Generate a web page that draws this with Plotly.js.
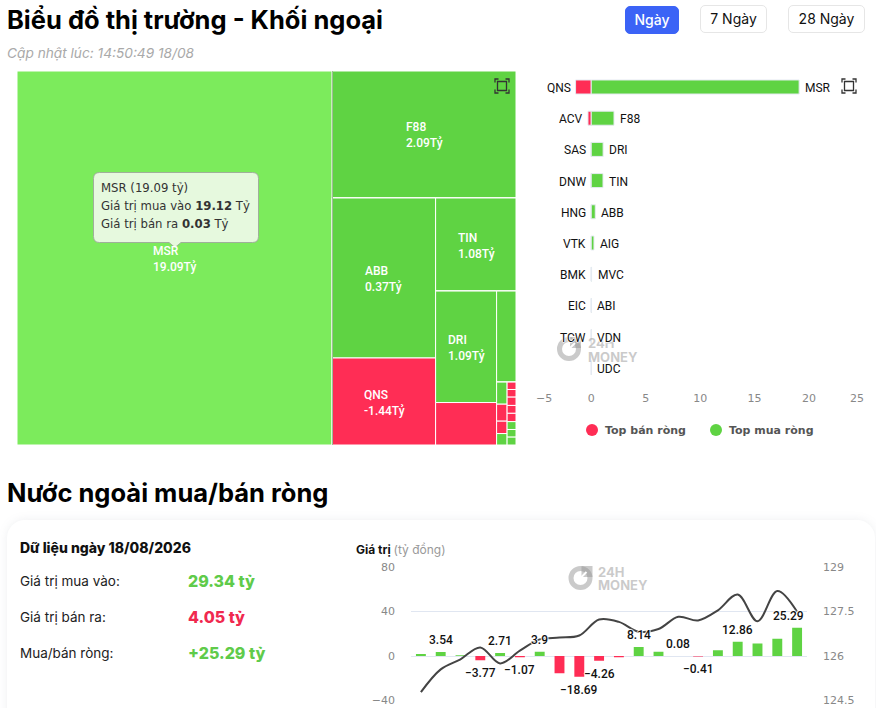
<!DOCTYPE html>
<html lang="vi">
<head>
<meta charset="utf-8">
<script src="https://cdn.plot.ly/plotly-3.0.1.min.js"></script>
<style>
html,body{margin:0;padding:0;width:876px;height:708px;overflow:hidden;background:#fff;font-family:Inter,sans-serif;}
.abs{position:absolute;white-space:nowrap;}
h1,h2{margin:0;font-size:25.5px;font-weight:700;color:#000;line-height:32px;}
.btn{box-sizing:border-box;height:28px;line-height:26px;text-align:center;font-size:14px;border:1px solid #e6e6e6;border-radius:5px;color:#111;background:#fff;}
.btn.on{background:#3b63f6;border-color:#3b63f6;color:#fff;font-weight:500;}
#card{left:7px;top:520px;width:868px;height:260px;border-radius:18px;background:#fff;box-shadow:0 0 10px rgba(120,130,150,.13);}
.lbl{font-size:13.5px;color:#222;line-height:18px;}
.val{font-size:16px;font-weight:800;line-height:20px;}
#plot{position:absolute;left:0;top:0;width:876px;height:708px;}
</style>
</head>
<body>
<h1 class="abs" style="left:7px;top:4px;">Biểu đồ thị trường - Khối ngoại</h1>
<div class="abs" style="left:7px;top:44px;font-size:13.7px;font-style:italic;color:#a9a9a9;line-height:18px;">Cập nhật lúc: 14:50:49 18/08</div>
<div class="abs btn on" style="left:625px;top:6px;width:54px;">Ngày</div>
<div class="abs btn" style="left:700px;top:5px;width:67px;">7 Ngày</div>
<div class="abs btn" style="left:788px;top:5px;width:77px;">28 Ngày</div>
<h2 class="abs" style="left:7px;top:477px;">Nước ngoài mua/bán ròng</h2>
<div class="abs" id="card"></div>
<div class="abs" style="left:20px;top:539px;font-size:14px;font-weight:800;color:#111;line-height:18px;">Dữ liệu ngày 18/08/2026</div>
<div class="abs lbl" style="left:20px;top:572px;">Giá trị mua vào:</div>
<div class="abs val" style="left:188px;top:571px;color:#5fcb4a;">29.34 tỷ</div>
<div class="abs lbl" style="left:20px;top:608px;">Giá trị bán ra:</div>
<div class="abs val" style="left:188px;top:607px;color:#f0294f;">4.05 tỷ</div>
<div class="abs lbl" style="left:20px;top:644px;">Mua/bán ròng:</div>
<div class="abs val" style="left:188px;top:643px;color:#5fcb4a;">+25.29 tỷ</div>
<div class="abs" style="left:356px;top:542px;font-size:12px;line-height:16px;color:#111;font-weight:700;">Giá trị <span style="font-weight:400;color:#999;">(tỷ đồng)</span></div>
<div id="plot"></div>
<script>
// ---- treemap data (tile weight read from the area of each tile) ----
var tileIds = ['root','MSR','A','F88','B','C','ABB','QNS','D','TIN','E','G','DRI','ACV','H','AIG','I','J','MVC','SAS','DNW','ABI','K','HNG','VTK','BMK','EIC','TCW','VDN','UDC','OTHER'];
var tileParents = ['','root','root','A','A','B','C','C','B','D','D','E','G','G','E','H','H','I','J','J','J','J','I','K','K','K','K','K','K','K','K'];
var tileWeights = [0,117.9,0,23.33,0,0,16.53,8.99,0,7.48,0,0,6.80,2.59,0,1.765,0,0,.232,.178,.13,.12,0,.066,.068,.074,.07,.074,.07,.068,.07];
var redTiles = ['QNS','ACV','SAS','DNW','HNG','VTK','BMK','EIC','TCW'];
// ---- treemap labels ----
var tileLabels = ['MSR','F88','ABB','TIN','DRI','QNS'];
var tileNet = ['19.09Tỷ','2.09Tỷ','0.37Tỷ','1.08Tỷ','1.09Tỷ','-1.44Tỷ'];
// ---- top buy / sell bars ----
var sellNames = ['QNS','ACV','SAS','DNW','HNG','VTK','BMK','EIC','TCW',''];
var sellValues = [-1.44,-0.3,-0.02,-0.02,-0.01,-0.01,-0.01,-0.01,-0.01,0];
var buyNames = ['MSR','F88','DRI','TIN','ABB','AIG','MVC','ABI','VDN','UDC'];
var buyValues = [19.09,2.09,1.09,1.08,0.37,0.25,0.03,0.02,0.01,0.01];
var rows = [0,1,2,3,4,5,6,7,8,9];
// ---- foreign net flow and index ----
var sessions = [1,2,3,4,5,6,7,8,9,10,11,12,13,14,15,16,17,18,19,20];
var netFlow = [1.8,3.54,0.6,-3.77,2.71,-1.07,3.9,-15.6,-18.69,-4.26,-1.1,8.14,3.9,0.08,-0.41,5.1,12.86,11.2,15.4,25.29];
var labelled = [1,3,4,5,6,8,9,11,13,14,16,19];
var indexLine = [124.78,125.55,125.89,126.29,125.75,126.18,126.56,126.62,126.69,127.23,127.15,126.82,126.91,127.32,127.2,127.54,128.07,127.17,128.19,127.49];

var W=876,H=708;
var GREEN='#5fd343',LIGHT='#7ceb5c',RED='#ff2d55';
function px(x){return x/W;} function py(y){return 1-y/H;}
var tileColors = tileIds.map(function(id){return id==='MSR'?LIGHT:(redTiles.indexOf(id)>=0?RED:GREEN);});

var traces=[
 {type:'treemap',ids:tileIds,labels:tileIds,parents:tileParents,values:tileWeights,branchvalues:'remainder',sort:false,
  textinfo:'none',hoverinfo:'skip',domain:{x:[px(17),px(516)],y:[py(445),py(71)]},
  tiling:{packing:'slice-dice',pad:0},pathbar:{visible:false},
  marker:{colors:tileColors,pad:{t:0,l:0,r:0,b:0},line:{color:'#fff',width:1}},leaf:{opacity:1}},
 {type:'bar',orientation:'h',x:sellValues,y:rows,xaxis:'x',yaxis:'y',width:.45,hoverinfo:'skip',marker:{color:RED,line:{color:'#e6ebf2',width:1}}},
 {type:'bar',orientation:'h',x:buyValues,y:rows,xaxis:'x',yaxis:'y',width:.45,hoverinfo:'skip',marker:{color:GREEN,line:{color:'#e6ebf2',width:1}}},
 {type:'bar',x:sessions,y:netFlow,xaxis:'x2',yaxis:'y2',width:.5,hoverinfo:'skip',marker:{color:netFlow.map(function(v){return v<0?RED:GREEN;})}},
 {type:'scatter',mode:'lines',x:sessions,y:indexLine,xaxis:'x2',yaxis:'y3',hoverinfo:'skip',line:{color:'#444',width:2,shape:'spline',smoothing:1}}
];

var ann=[],shapes=[];
var halo='1px 0 1px #fff,-1px 0 1px #fff,0 1px 1px #fff,0 -1px 1px #fff';
function note(x,y,text,o){o=o||{};ann.push(Object.assign({xref:'paper',yref:'paper',x:px(x-2),y:py(y),text:text,showarrow:false,xanchor:'left',yanchor:'middle',align:'left'},o));}
var a=px,b=py;
function P(x,y){return a(x)+','+b(y);}

// divider beside the largest tile
shapes.push({type:'line',xref:'paper',yref:'paper',x0:a(332.5),x1:a(332.5),y0:b(71),y1:b(445),line:{color:'#9dbb95',width:1}});

// watermark
function mark(cx,cy,tx,ty1,ty2){
 var c='rgba(150,150,150,.5)';
 shapes.push({type:'circle',xref:'paper',yref:'paper',x0:a(cx-9.5),x1:a(cx+9.5),y0:b(cy+9.5),y1:b(cy-9.5),line:{color:c,width:5},fillcolor:'rgba(0,0,0,0)'});
 shapes.push({type:'rect',xref:'paper',yref:'paper',x0:a(cx+1),x1:a(cx+12),y0:b(cy-1),y1:b(cy-12),line:{width:0},fillcolor:c});
 shapes.push({type:'line',xref:'paper',yref:'paper',x0:a(cx-4),x1:a(cx+6),y0:b(cy+4),y1:b(cy-6),line:{color:'#fff',width:2}});
 note(tx,ty1,'<b>24H</b>',{font:{family:'Inter',size:13,color:c}});
 note(tx,ty2,'<b>MONEY</b>',{font:{family:'Inter',size:13,color:c}});
}
mark(569,349,588,343,357);
mark(580.5,578,598,572,585);

// treemap labels
var labelPos=[[153,252],[406,128],[365,272],[458,239],[448,341],[364,396]];
tileLabels.forEach(function(t,i){
 note(labelPos[i][0],labelPos[i][1]+7,t+'<br>'+tileNet[i],{font:{family:'Roboto',size:12,color:'#fff',weight:500}});
});

// tooltip
var L=93.5,R=258.5,T=172.5,B=242.5,r=6,mx=175;
shapes.push({type:'path',xref:'paper',yref:'paper',layer:'above',fillcolor:'#e6f9de',line:{color:'#9fb09a',width:1},
 path:'M'+P(L+r,T)+' L'+P(R-r,T)+' Q'+P(R,T)+' '+P(R,T+r)+' L'+P(R,B-r)+' Q'+P(R,B)+' '+P(R-r,B)+' L'+P(mx+6,B)+' L'+P(mx,B+5)+' L'+P(mx-6,B)+' L'+P(L+r,B)+' Q'+P(L,B)+' '+P(L,B-r)+' L'+P(L,T+r)+' Q'+P(L,T)+' '+P(L+r,T)+' Z'});
var tipFont={family:'DejaVu Sans',size:11.7,color:'#333'};
note(101,188,'MSR (19.09 tỷ)',{font:tipFont});
note(101,206,'Giá trị mua vào <b>19.12</b> Tỷ',{font:tipFont});
note(101,224,'Giá trị bán ra <b>0.03</b> Tỷ',{font:tipFont});

// fullscreen icons
function icon(cx,cy){
 var s=7,k=3.5,cc='#333';
 var d='M'+P(cx-s,cy-s+k)+' L'+P(cx-s,cy-s)+' L'+P(cx-s+k,cy-s)+' M'+P(cx+s-k,cy-s)+' L'+P(cx+s,cy-s)+' L'+P(cx+s,cy-s+k)+' M'+P(cx+s,cy+s-k)+' L'+P(cx+s,cy+s)+' L'+P(cx+s-k,cy+s)+' M'+P(cx-s+k,cy+s)+' L'+P(cx-s,cy+s)+' L'+P(cx-s,cy+s-k);
 shapes.push({type:'path',xref:'paper',yref:'paper',path:d,line:{color:cc,width:1.3}});
 shapes.push({type:'rect',xref:'paper',yref:'paper',x0:a(cx-4.5),x1:a(cx+4.5),y0:b(cy+4.5),y1:b(cy-4.5),line:{color:cc,width:1.3}});
}
icon(502,86);icon(849,86);

// bar name labels
var nameFont={family:'Roboto',size:12,color:'#111',shadow:halo};
rows.forEach(function(i){
 if(sellNames[i]) ann.push({xref:'x',yref:'y',x:sellValues[i],y:i,text:sellNames[i],showarrow:false,xanchor:'right',xshift:-3,yshift:-1,font:nameFont});
 ann.push({xref:'x',yref:'y',x:buyValues[i],y:i,text:buyNames[i],showarrow:false,xanchor:'left',xshift:4,yshift:-1,font:nameFont});
});
var axisFont={family:'DejaVu Sans',size:11,color:'#888'};
ann.push({xref:'x',yref:'paper',x:-5,y:py(398),text:'−5',showarrow:false,xshift:7,font:axisFont,yanchor:'middle'});
ann.push({xref:'x',yref:'paper',x:25,y:py(398),text:'25',showarrow:false,xshift:-7,font:axisFont,yanchor:'middle'});

// legend
[[592,RED,605,'Top bán ròng'],[716,GREEN,729,'Top mua ròng']].forEach(function(e){
 shapes.push({type:'circle',xref:'paper',yref:'paper',x0:a(e[0]-6),x1:a(e[0]+6),y0:b(436),y1:b(424),line:{width:0},fillcolor:e[1]});
 note(e[2],430.5,'<b>'+e[3]+'</b>',{font:{family:'DejaVu Sans',size:11,color:'#555'}});
});

// net flow value labels
var valFont={family:'Roboto',size:12,color:'#111',weight:500,shadow:halo};
labelled.forEach(function(i){
 var v=netFlow[i];
 ann.push({xref:'x2',yref:'y2',x:sessions[i],y:v,text:String(v).replace('-','−'),showarrow:false,yanchor:'middle',yshift:v<0?-13:12,xshift:i===19?-9:0,font:valFont});
});

var layout={width:W,height:H,margin:{l:0,r:0,t:0,b:0,pad:0},paper_bgcolor:'rgba(0,0,0,0)',plot_bgcolor:'rgba(0,0,0,0)',showlegend:false,barmode:'overlay',dragmode:false,hovermode:false,
 xaxis:{domain:[px(536.8),px(863.5)],range:[-5,25],tickvals:[0,5,10,15,20],ticktext:['0','5','10','15','20'],showgrid:false,zeroline:false,showline:false,ticks:'',tickfont:axisFont,ticklabelstandoff:7,anchor:'y',fixedrange:true},
 yaxis:{domain:[py(383.4),py(71.4)],range:[9.5,-0.5],visible:false,fixedrange:true,anchor:'x'},
 xaxis2:{domain:[px(411),px(807)],range:[0.5,20.5],showticklabels:false,ticks:'',showgrid:false,zeroline:false,showline:false,anchor:'y2',fixedrange:true},
 yaxis2:{domain:[py(700.5),py(567)],range:[-40,80],tickvals:[-40,0,40,80],showgrid:true,gridcolor:'#e0e6f1',zeroline:false,showline:false,ticks:'',tickfont:axisFont,ticklabelstandoff:15,anchor:'x2',fixedrange:true},
 yaxis3:{domain:[py(700.5),py(567)],range:[124.5,129],overlaying:'y2',side:'right',tickvals:[124.5,126,127.5,129],showgrid:false,zeroline:false,showline:false,ticks:'',tickfont:axisFont,ticklabelstandoff:15,anchor:'x2',fixedrange:true},
 shapes:shapes,annotations:ann};
Plotly.newPlot('plot',traces,layout,{displayModeBar:false,staticPlot:true});
</script>
</body>
</html>
